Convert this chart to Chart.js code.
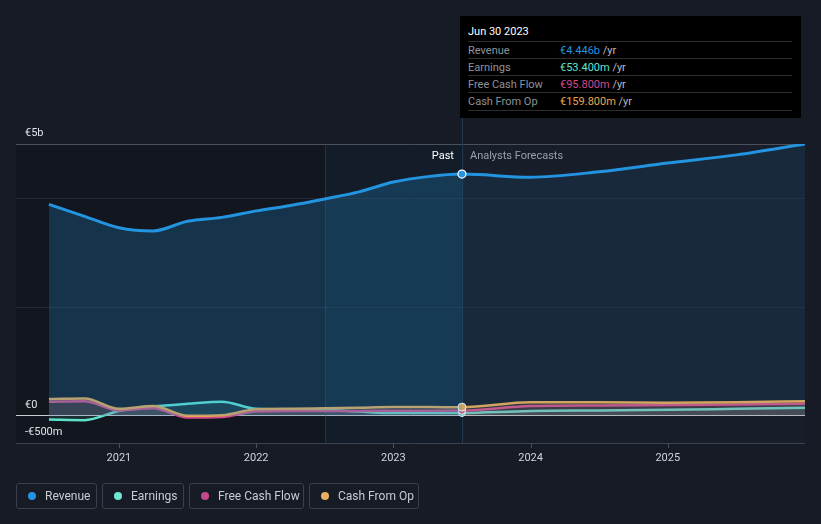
<!DOCTYPE html>
<html>
<head>
<meta charset="utf-8">
<script src="https://cdn.jsdelivr.net/npm/chart.js@4"></script>
<style>
  html, body { margin:0; padding:0; background:#161b26; }
  body { width:821px; height:524px; position:relative; overflow:hidden; font-family: Roboto, "Open Sans", sans-serif; }
  #c { position:absolute; left:0; top:0; }
  .tip { position:absolute; left:460px; top:16px; width:341px; height:102px; background:#000; }
  .tip .title { position:absolute; left:8px; top:9px; font-size:11px; color:#fff; }
  .tip .row { position:absolute; left:8px; width:324px; height:17px; border-top:1px solid #2e2e2e; font-size:11px; line-height:17px; }
  .tip .row .lab { position:absolute; left:0; color:#8f9399; }
  .tip .row .val { position:absolute; left:92px; }
  .tip .row .yr { color:#b8bcc2; }
  .tip .end { position:absolute; left:8px; top:94px; width:324px; border-top:1px solid #2e2e2e; }
  .legend { position:absolute; top:483px; left:16px; }
  .legend .item { position:absolute; top:0; height:26px; border:1px solid #3a404c; border-radius:3px; font-size:12px; color:#c8ccd2; box-sizing:border-box; line-height:24px; padding-left:28px; }
  .legend .dot { position:absolute; left:11px; top:8px; width:8px; height:8px; border-radius:50%; }
</style>
</head>
<body>
<canvas id="c" width="821" height="524"></canvas>
<div class="tip">
  <div class="title">Jun 30 2023</div>
  <div class="row" style="top:25px"><span class="lab">Revenue</span><span class="val"><span style="color:#2394df">€4.446b</span> <span class="yr">/yr</span></span></div>
  <div class="row" style="top:42px"><span class="lab">Earnings</span><span class="val"><span style="color:#5fe3cf">€53.400m</span> <span class="yr">/yr</span></span></div>
  <div class="row" style="top:59px"><span class="lab">Free Cash Flow</span><span class="val"><span style="color:#d0488c">€95.800m</span> <span class="yr">/yr</span></span></div>
  <div class="row" style="top:76px"><span class="lab">Cash From Op</span><span class="val"><span style="color:#e8a74f">€159.800m</span> <span class="yr">/yr</span></span></div>
  <div class="end"></div>
</div>
<div class="legend">
  <div class="item" style="left:0;width:81px"><span class="dot" style="background:#2394df"></span>Revenue</div>
  <div class="item" style="left:86px;width:82px"><span class="dot" style="background:#6ee6d4"></span>Earnings</div>
  <div class="item" style="left:173px;width:115px"><span class="dot" style="background:#c64a8a"></span>Free Cash Flow</div>
  <div class="item" style="left:293px;width:110px"><span class="dot" style="background:#e8ae63"></span>Cash From Op</div>
</div>
<script>
// Time axis (fractional years)
const periods   = [2020.49, 2020.75, 2021.0, 2021.25, 2021.5, 2021.75, 2022.0, 2022.25, 2022.5, 2022.75, 2023.0, 2023.25, 2023.5, 2024.0, 2024.5, 2025.0, 2025.5, 2026.0];
// values in € billions
const revenue   = [3.89, 3.67, 3.46, 3.40, 3.58, 3.65, 3.77, 3.87, 3.99, 4.12, 4.30, 4.40, 4.446, 4.39, 4.49, 4.65, 4.80, 5.00];
const earnings  = [-0.07, -0.08, 0.09, 0.17, 0.22, 0.26, 0.13, 0.12, 0.11, 0.08, 0.05, 0.05, 0.0534, 0.09, 0.10, 0.11, 0.13, 0.15];
const freeCash  = [0.26, 0.27, 0.10, 0.14, -0.03, -0.02, 0.08, 0.09, 0.09, 0.09, 0.095, 0.095, 0.0958, 0.18, 0.19, 0.20, 0.21, 0.22];
const cashOp    = [0.31, 0.32, 0.13, 0.18, 0.00, 0.01, 0.12, 0.13, 0.14, 0.15, 0.16, 0.16, 0.1598, 0.25, 0.25, 0.24, 0.25, 0.27];
const yearTicks = [2021, 2022, 2023, 2024, 2025];
const yTicks    = [-0.5, 0, 2, 4, 5];
const yLabels   = {"-0.5": "-€500m", "0": "€0", "5": "€5b"};
const nowX = 2023.5, highlightStart = 2022.5, xMin = 2020.25, xMax = 2026.0;
const nowIdx = periods.indexOf(nowX);

const pts = arr => periods.map((p, i) => ({x: p, y: arr[i]}));
const radiusAtNow = r => periods.map((p, i) => i === nowIdx ? r : 0);

const bgPlugin = {
  id: 'bg',
  beforeDraw(chart) {
    const {ctx, chartArea: a, scales: {x}} = chart;
    ctx.save();
    ctx.fillStyle = '#161b26';
    ctx.fillRect(0, 0, chart.width, chart.height);
    const xs = x.getPixelForValue(highlightStart), xn = x.getPixelForValue(nowX);
    ctx.fillStyle = '#12161e';
    ctx.fillRect(a.left, a.top, xs - a.left, a.bottom - a.top);
    ctx.fillStyle = '#131d2a';
    ctx.fillRect(xs, a.top, xn - xs, a.bottom - a.top);
    ctx.fillStyle = '#171d29';
    ctx.fillRect(xn, a.top, a.right - xn, a.bottom - a.top);
    ctx.restore();
  },
  beforeDatasetsDraw(chart) {
    const {ctx, chartArea: a, scales: {x}} = chart;
    ctx.save();
    const xs = x.getPixelForValue(highlightStart), xn = x.getPixelForValue(nowX);
    ctx.lineWidth = 1;
    ctx.strokeStyle = 'rgba(40,70,100,0.5)';
    ctx.beginPath(); ctx.moveTo(Math.round(xs) + 0.5, a.top); ctx.lineTo(Math.round(xs) + 0.5, a.bottom); ctx.stroke();
    ctx.strokeStyle = '#22384e';
    ctx.beginPath(); ctx.moveTo(Math.round(xn) + 0.5, 118); ctx.lineTo(Math.round(xn) + 0.5, a.bottom); ctx.stroke();
    ctx.restore();
  },
  afterDatasetsDraw(chart) {
    const {ctx, chartArea: a, scales: {x, y}} = chart;
    ctx.save();
    const xn = x.getPixelForValue(nowX);
    ctx.strokeStyle = '#3c424e';
    ctx.lineWidth = 1;
    ctx.beginPath(); ctx.moveTo(a.left, Math.round(a.bottom) + 0.5); ctx.lineTo(a.right, Math.round(a.bottom) + 0.5); ctx.stroke();
    ctx.font = '11px Roboto, "Open Sans", sans-serif';
    ctx.fillStyle = '#e0e3e8';
    ctx.textAlign = 'left';
    ctx.textBaseline = 'middle';
    for (const v of yTicks) {
      const lab = yLabels[String(v)];
      if (!lab) continue;
      const py = y.getPixelForValue(v);
      ctx.fillText(lab, 25, py - 11);
    }
    ctx.textAlign = 'center';
    ctx.fillStyle = '#d0d4da';
    ctx.strokeStyle = '#4a505c';
    for (const t of yearTicks) {
      const px = x.getPixelForValue(t);
      ctx.beginPath(); ctx.moveTo(Math.round(px) + 0.5, a.bottom); ctx.lineTo(Math.round(px) + 0.5, a.bottom + 5); ctx.stroke();
      ctx.fillText(String(t), px, a.bottom + 15);
    }
    ctx.textAlign = 'right';
    ctx.fillStyle = '#ffffff';
    ctx.fillText('Past', xn - 8, 156);
    ctx.textAlign = 'left';
    ctx.fillStyle = '#9ba1a9';
    ctx.fillText('Analysts Forecasts', xn + 8, 156);
    ctx.restore();
  }
};

const forecastFill = (pastCol, futCol) => ({ backgroundColor: c => c.p0.parsed.x >= nowX ? futCol : pastCol });

new Chart(document.getElementById('c'), {
  type: 'line',
  data: {
    datasets: [
      { label: 'Revenue', data: pts(revenue), borderColor: '#2394df', borderWidth: 3, fill: 'origin',
        backgroundColor: 'rgba(35,148,223,0.24)', segment: forecastFill('rgba(35,148,223,0.24)', 'rgba(35,148,223,0.11)'), order: 0,
        pointRadius: radiusAtNow(4), pointBackgroundColor: '#2394df', pointBorderColor: '#ffffff', pointBorderWidth: 1.2 },
      { label: 'Cash From Op', data: pts(cashOp), borderColor: '#e8a74f', borderWidth: 2.5, fill: 'origin',
        backgroundColor: 'rgba(232,167,79,0.12)', order: 1,
        pointRadius: radiusAtNow(4), pointBackgroundColor: '#e8a74f', pointBorderColor: '#ffffff', pointBorderWidth: 1 },
      { label: 'Free Cash Flow', data: pts(freeCash), borderColor: '#d0488c', borderWidth: 2.5, fill: 'origin',
        backgroundColor: 'rgba(208,72,140,0.12)', order: 2,
        pointRadius: radiusAtNow(3.5), pointBackgroundColor: '#d0488c', pointBorderColor: '#ffffff', pointBorderWidth: 1 },
      { label: 'Earnings', data: pts(earnings), borderColor: '#5fe3cf', borderWidth: 2.5, fill: 'origin',
        backgroundColor: 'rgba(95,227,207,0.12)', order: 3,
        pointRadius: radiusAtNow(3.5), pointBackgroundColor: '#5fe3cf', pointBorderColor: '#ffffff', pointBorderWidth: 1 }
    ]
  },
  options: {
    responsive: false,
    animation: false,
    events: [],
    layout: { padding: { left: 16, right: 16, top: 144, bottom: 81 } },
    elements: { line: { cubicInterpolationMode: 'monotone' } },
    plugins: { legend: { display: false }, tooltip: { enabled: false } },
    scales: {
      x: { type: 'linear', min: xMin, max: xMax, display: false,
        afterBuildTicks: s => { s.ticks = yearTicks.map(v => ({value: v})); } },
      y: { min: -0.5, max: 5,
        afterBuildTicks: s => { s.ticks = yTicks.map(v => ({value: v})); },
        ticks: { display: false },
        grid: { drawTicks: false, color: c => {
            const v = c.tick.value;
            if (v === 0) return '#c9ccd1';
            if (v === 5) return '#4b505a';
            if (v === -0.5) return 'rgba(0,0,0,0)';
            return '#232833';
          } },
        border: { display: false } }
    }
  },
  plugins: [bgPlugin]
});
</script>
</body>
</html>
